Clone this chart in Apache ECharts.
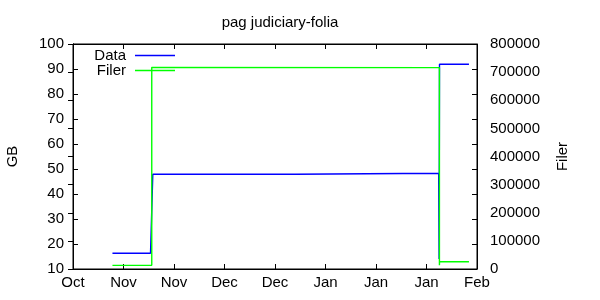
<!DOCTYPE html>
<html><head><meta charset="utf-8">
<script src="https://cdn.jsdelivr.net/npm/echarts@6/dist/echarts.min.js"></script>
<style>html,body{margin:0;padding:0;background:#fff}#c{width:600px;height:300px}</style>
</head><body><div id="c"></div>
<script>
const baseDate = '2010-10-24T00:00Z';
const xTickLabels = ['Oct','Nov','Nov','Dec','Dec','Jan','Jan','Jan','Feb'];
const dataTimes = ['2010-11-03T22:30Z','2010-11-14T11:45Z','2010-11-15T03:00Z','2010-12-24T13:00Z','2010-12-24T13:10Z','2011-02-02T09:00Z','2011-02-02T12:00Z','2011-02-02T14:30Z','2011-02-10T18:30Z'];
const dataGB = [16.3,16.3,47.9,47.9,48.3,48.3,14,91.9,91.9];
const filerTimes = ['2010-11-03T22:30Z','2010-11-14T20:00Z','2010-11-14T20:00Z','2011-02-02T14:00Z','2011-02-02T14:00Z','2011-02-02T14:30Z','2011-02-10T18:30Z'];
const filerCount = [13000,13000,717000,716000,13000,26000,26000];

const DAY = 86400000;
const t0 = Date.parse(baseDate);
const toDays = t => (Date.parse(t) - t0) / DAY;
const FONT = 'Liberation Sans';
const FS = 15;
const axisCommon = {
  axisLine:{show:true,lineStyle:{color:'#000',width:1}},
  axisTick:{show:true,inside:true,length:5,lineStyle:{color:'#000'}},
  splitLine:{show:false},
  axisLabel:{color:'#000',fontFamily:FONT,fontSize:FS}
};
const chart = echarts.init(document.getElementById('c'));
chart.setOption({
  animation:false,
  backgroundColor:'#fff',
  title:{text:'pag judiciary-folia',left:275,top:10,textAlign:'center',
    textStyle:{color:'#000',fontFamily:FONT,fontSize:FS,fontWeight:'normal'}},
  grid:{left:73,right:123,top:44,bottom:31,show:true,borderColor:'#000',borderWidth:1,containLabel:false,outerBoundsMode:'none'},
  legend:{orient:'vertical',left:92,top:48,padding:0,itemGap:0,itemWidth:40,itemHeight:1.5,align:'right',
    textStyle:{color:'#000',fontFamily:FONT,fontSize:FS,lineHeight:15,width:34,align:'right',padding:[0,4,0,0]},
    data:[{name:'Data',icon:'rect',itemStyle:{color:'#0000ff'}},{name:'Filer',icon:'rect',itemStyle:{color:'#00ff00'}}]},
  xAxis:[
    Object.assign({},axisCommon,{type:'value',min:0,max:112,interval:14,position:'bottom',
      axisLabel:Object.assign({},axisCommon.axisLabel,{margin:6,formatter:v=>xTickLabels[Math.round(v/14)]})}),
    Object.assign({},axisCommon,{type:'value',min:0,max:112,interval:14,position:'top',axisLabel:{show:false}})
  ],
  yAxis:[
    Object.assign({},axisCommon,{type:'value',min:10,max:100,interval:10,position:'left',
      name:'GB',nameLocation:'middle',nameGap:53,nameRotate:90,
      nameTextStyle:{color:'#000',fontFamily:FONT,fontSize:FS},
      axisLabel:Object.assign({},axisCommon.axisLabel,{margin:9})}),
    Object.assign({},axisCommon,{type:'value',min:0,max:800000,interval:100000,position:'right',
      name:'Filer',nameLocation:'middle',nameGap:78,nameRotate:90,
      nameTextStyle:{color:'#000',fontFamily:FONT,fontSize:FS},
      axisLabel:Object.assign({},axisCommon.axisLabel,{margin:13,formatter:v=>String(v)})}),
    Object.assign({},axisCommon,{type:'value',min:10,max:100,interval:10,position:'right',axisLabel:{show:false}})
  ],
  series:[
    {name:'Data',type:'line',xAxisIndex:0,yAxisIndex:0,symbol:'none',
      lineStyle:{color:'#0000ff',width:1.4},itemStyle:{color:'#0000ff'},
      data:dataTimes.map((t,i)=>[toDays(t),dataGB[i]])},
    {name:'Filer',type:'line',xAxisIndex:0,yAxisIndex:1,symbol:'none',
      lineStyle:{color:'#00ff00',width:1.4},itemStyle:{color:'#00ff00'},
      data:filerTimes.map((t,i)=>[toDays(t),filerCount[i]])}
  ]
});
</script></body></html>
